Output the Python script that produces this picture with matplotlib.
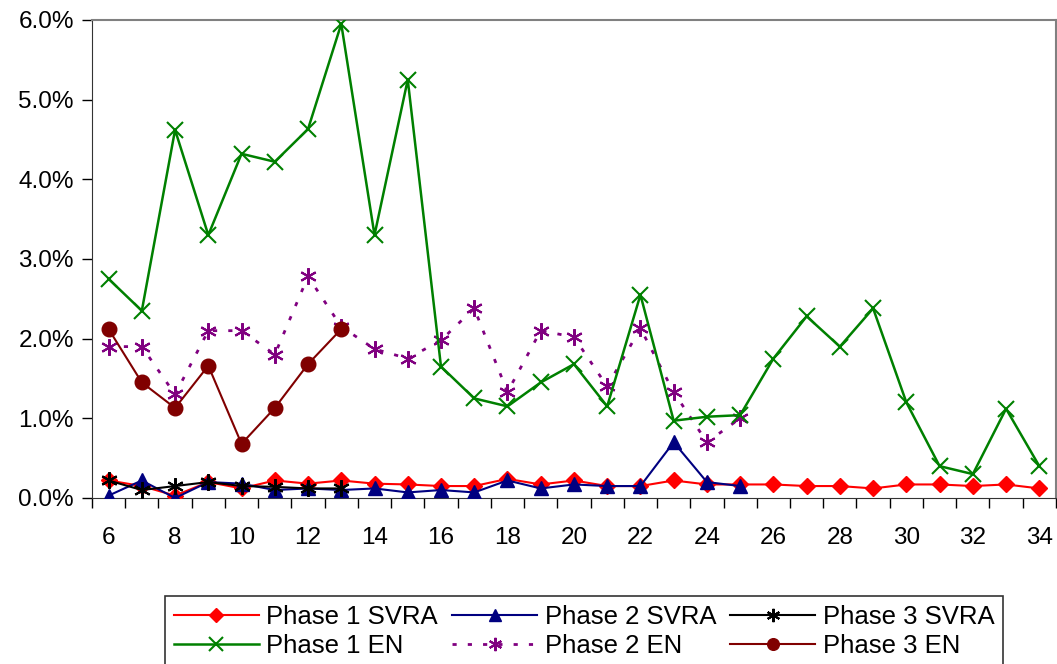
import numpy as np
import matplotlib.pyplot as plt
from matplotlib.ticker import FuncFormatter, FixedLocator

plt.rcParams['font.family'] = ['Liberation Sans', 'DejaVu Sans']

x_long = list(range(6, 35))
x_mid = list(range(6, 26))
x_short = list(range(6, 14))

p1_svra = [0.22, 0.15, 0.03, 0.20, 0.12, 0.22, 0.18, 0.22, 0.18, 0.17,
           0.15, 0.15, 0.24, 0.17, 0.22, 0.15, 0.15, 0.22, 0.17, 0.17,
           0.17, 0.15, 0.15, 0.12, 0.17, 0.17, 0.15, 0.17, 0.12]
p2_svra = [0.03, 0.22, 0.00, 0.20, 0.18, 0.10, 0.12, 0.10, 0.12, 0.07,
           0.10, 0.07, 0.22, 0.12, 0.17, 0.15, 0.15, 0.70, 0.20, 0.15]
p3_svra = [0.22, 0.10, 0.15, 0.20, 0.15, 0.14, 0.12, 0.12]
p1_en = [2.75, 2.35, 4.62, 3.30, 4.32, 4.22, 4.63, 5.95, 3.30, 5.25,
         1.65, 1.25, 1.15, 1.45, 1.68, 1.15, 2.55, 0.97, 1.02, 1.04,
         1.75, 2.28, 1.90, 2.38, 1.20, 0.40, 0.30, 1.12, 0.40]
p2_en = [1.90, 1.90, 1.30, 2.10, 2.10, 1.80, 2.78, 2.15, 1.87, 1.75,
         1.98, 2.38, 1.33, 2.10, 2.02, 1.40, 2.13, 1.33, 0.70, 1.00]
p3_en = [2.12, 1.45, 1.13, 1.66, 0.68, 1.13, 1.68, 2.12]

fig = plt.figure(figsize=(10.57, 6.64), dpi=100)
ax = fig.add_axes([0.087, 0.25, 0.912, 0.72])

h1, = ax.plot(x_long, p1_svra, color='#ff0000', marker='D', markersize=8.5, lw=1.5, label='Phase 1 SVRA', zorder=5)
h2, = ax.plot(x_mid, p2_svra, color='#000080', marker='^', markersize=10.5, lw=1.5, label='Phase 2 SVRA', zorder=5)
h3, = ax.plot(x_short, p3_svra, color='black', marker=(6, 2, 0), markersize=12, mew=1.5, lw=1.5, label='Phase 3 SVRA', zorder=6)
h4, = ax.plot(x_long, p1_en, color='#008000', marker='x', markersize=12, mew=1.5, lw=1.8, label='Phase 1 EN', zorder=4)
h5, = ax.plot(x_mid, p2_en, color='#800080', marker=(6, 2, 0), markersize=12, mew=1.5, lw=2,
              linestyle=(0, (1.5, 4)), label='Phase 2 EN', zorder=3)
h6, = ax.plot(x_short, p3_en, color='#800000', marker='o', markersize=10.5, lw=1.5, label='Phase 3 EN', zorder=4)

ax.set_xlim(5.5, 34.5)
ax.set_ylim(0, 6)
ax.set_yticks(np.arange(0, 6.01, 1))
ax.yaxis.set_major_formatter(FuncFormatter(lambda v, p: f'{v:.1f}%'))
ax.xaxis.set_major_locator(FixedLocator(np.arange(5.5, 35, 1)))
ax.xaxis.set_major_formatter(FuncFormatter(lambda v, p: ''))
ax.set_xticks(np.arange(6, 35, 2), minor=True)
ax.set_xticklabels([str(v) for v in range(6, 35, 2)], minor=True)
ax.tick_params(axis='x', which='minor', length=0, pad=21, labelsize=17.5)
ax.tick_params(axis='x', which='major', length=7, width=1, direction='out')
ax.tick_params(axis='y', length=7, width=1, direction='out', labelsize=17.5, pad=6)

for s in ['top', 'right']:
    ax.spines[s].set_color('#808080')
    ax.spines[s].set_linewidth(1.5)
ax.spines['left'].set_color('#333333')
ax.spines['bottom'].set_color('#333333')

# row-major order like the original legend
handles = [h1, h4, h2, h5, h3, h6]
leg = fig.legend(handles=handles, labels=[h.get_label() for h in handles],
                 loc='upper left', bbox_to_anchor=(0.156, 0.1024), borderaxespad=0,
                 ncol=3, fontsize=18.5, markerscale=0.8,
                 frameon=True, fancybox=False, edgecolor='black', handlelength=3.3,
                 columnspacing=0.55, handletextpad=0.3, borderpad=0.35, labelspacing=0.2)
leg.get_frame().set_linewidth(1.2)

fig.savefig('out.png', dpi=100)
